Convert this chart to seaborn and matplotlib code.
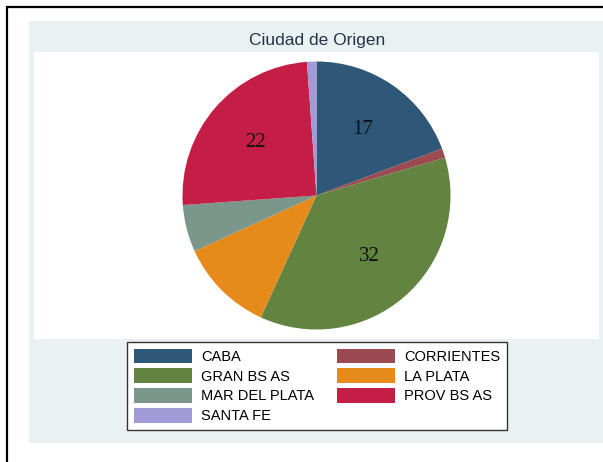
import matplotlib
matplotlib.use("Agg")
import matplotlib.pyplot as plt
from matplotlib.patches import Rectangle, Patch
import numpy as np
import seaborn as sns

# --- data ---
ciudades = ["CABA", "CORRIENTES", "GRAN BS AS", "LA PLATA",
            "MAR DEL PLATA", "PROV BS AS", "SANTA FE"]
cantidad = [17, 1, 32, 10, 5, 22, 1]
colores = ["#2F5778", "#9A4A50", "#638340", "#E68A1C",
           "#7B978B", "#C41E47", "#A19AD6"]
titulo = "Ciudad de Origen"

sns.set_theme(style="white")
plt.rcParams["font.family"] = ["Liberation Sans", "DejaVu Sans"]
plt.rcParams["text.color"] = "black"
paleta = sns.color_palette(colores)

W, H = 603, 462
fig = plt.figure(figsize=(W / 100, H / 100), dpi=100)
fig.patch.set_facecolor("white")

def px(x0, y0, x1, y1):
    # pixel box (top-left origin) -> figure fraction rect
    return (x0 / W, 1 - y1 / H), (x1 - x0) / W, (y1 - y0) / H

# outer border (cut at right/bottom), graph region, plot region
xy, w, h = px(6.5, 7.5, 640, 500)
fig.patches.append(Rectangle(xy, w, h, transform=fig.transFigure, fill=False,
                             edgecolor="black", linewidth=1.6, zorder=-2))
xy, w, h = px(29, 21, 606, 443)
fig.patches.append(Rectangle(xy, w, h, transform=fig.transFigure,
                             facecolor="#EAF1F3", edgecolor="none", zorder=-1))

xy, w, h = px(34, 52, 599, 339)
ax = fig.add_axes([xy[0], xy[1], w, h], zorder=1)

wedges, _ = ax.pie(cantidad, colors=paleta, startangle=90, counterclock=False,
                   radius=1, wedgeprops=dict(linewidth=0))
ax.set_frame_on(True)
ax.set_facecolor("white")
for s in ax.spines.values():
    s.set_visible(False)
ylim = (287 / 2) / 134
ax.set_ylim(-ylim, ylim)
ax.set_aspect("equal", adjustable="datalim")
ax.set_xticks([])
ax.set_yticks([])

# slice labels for the large groups
total = sum(cantidad)
ang0 = 90.0
for val in cantidad:
    span = val / total * 360
    mid = np.deg2rad(ang0 - span / 2)
    if val >= 15:
        ax.text(0.6 * np.cos(mid), 0.6 * np.sin(mid), str(val),
                ha="center", va="center", fontsize=15, color="#111111",
                family=["Liberation Serif", "DejaVu Serif"])
    ang0 -= span

fig.text(317 / W, 1 - 40 / H, titulo, ha="center", va="center",
         fontsize=12.5, color="#243347")

# legend, row-wise order in 2 columns
orden = [0, 2, 4, 6, 1, 3, 5]
handles = [Patch(facecolor=paleta[i], edgecolor="none") for i in orden]
labels = [ciudades[i] for i in orden]
leg = fig.legend(handles, labels, ncol=2, loc="upper center",
                 bbox_to_anchor=(317 / W, 1 - 342 / H),
                 fontsize=10.5, frameon=True, fancybox=False,
                 handlelength=4.0, handleheight=1.15, handletextpad=0.6,
                 labelspacing=0.32, columnspacing=1.6, borderpad=0.45,
                 borderaxespad=0)
for t in leg.get_texts():
    t.set_color("black")
leg.get_frame().set_edgecolor("#333333")
leg.get_frame().set_linewidth(1.0)
leg.get_frame().set_facecolor("white")
leg.get_frame().set_alpha(1)

fig.savefig("out.png", dpi=100)
